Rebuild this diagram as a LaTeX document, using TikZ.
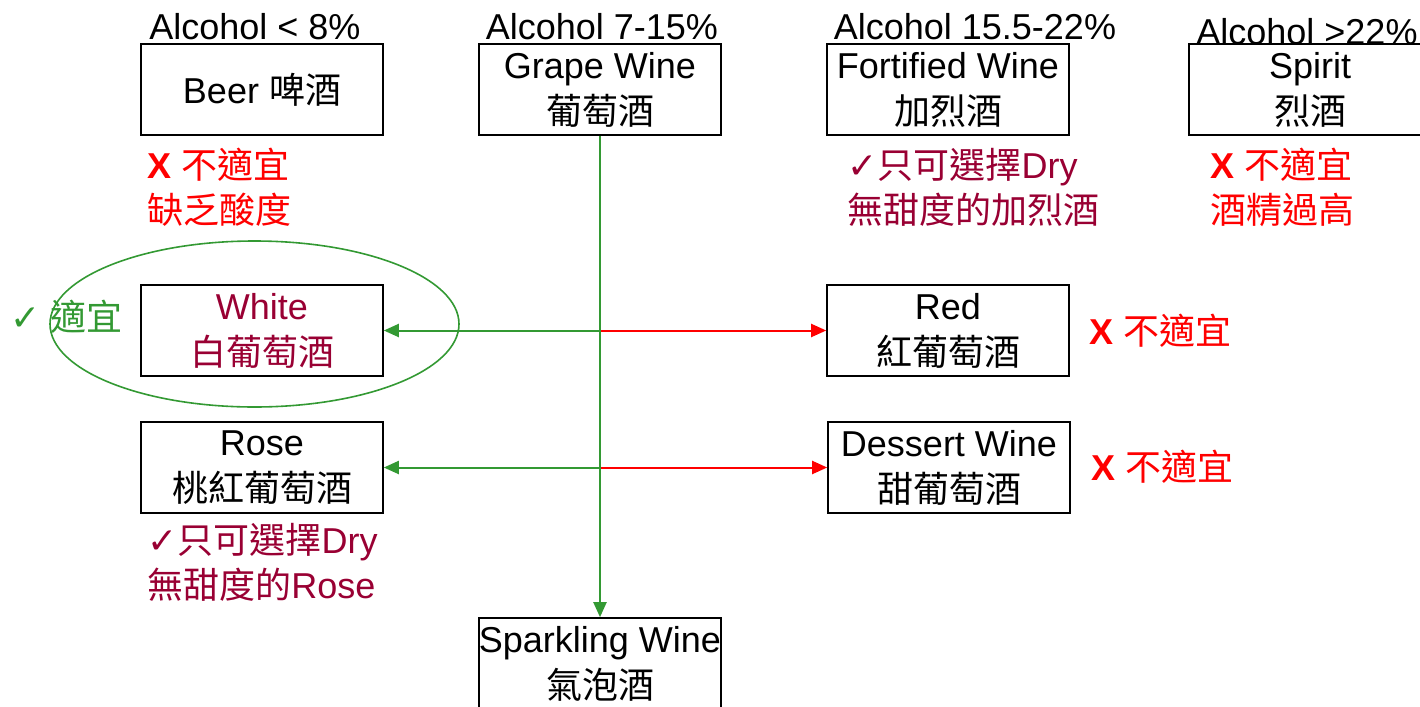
\documentclass[tikz,border=0pt]{standalone}
\usepackage{fontspec}
\setmainfont{Liberation Sans}
\newfontfamily\cjk{Noto Sans CJK TC}
\newfontfamily\symf{DejaVu Sans}
\usetikzlibrary{arrows.meta,shapes.geometric}
\definecolor{wgreen}{HTML}{339933}
\definecolor{wmaroon}{HTML}{990033}
\definecolor{wred}{HTML}{FF0000}
\newcommand{\zh}[1]{{\cjk #1}}
\newcommand{\ck}{{\symf ✓}}
\begin{document}
\begin{tikzpicture}[x=0.5pt,y=-0.5pt,
 every node/.style={font=\fontsize{18}{23}\selectfont, inner sep=0pt},
 wbox/.style={draw=black, line width=0.8pt, minimum width=121pt, minimum height=45.5pt, align=center},
 lab/.style={anchor=base},
 note/.style={anchor=north west, align=left, font=\fontsize{18}{22.5}\selectfont},
 garrow/.style={draw=wgreen, line width=1pt, -{Triangle[length=7.5pt,width=6.5pt]}},
 rarrow/.style={draw=wred, line width=1pt, -{Triangle[length=7.5pt,width=6.5pt]}}]
\useasboundingbox (0,0) rectangle (1420,707);
% boxes
\node[wbox] (beer) at (262,89.5) {Beer \zh{啤酒}};
\node[wbox] (grape) at (600,89.5) {Grape Wine\\\zh{葡萄酒}};
\node[wbox] (fort) at (948,89.5) {Fortified Wine\\\zh{加烈酒}};
\node[wbox] (spirit) at (1310,89.5) {Spirit\\\zh{烈酒}};
\node[wbox, text=wmaroon] (white) at (262,330.5) {White\\\zh{白葡萄酒}};
\node[wbox] (red) at (948,330.5) {Red\\\zh{紅葡萄酒}};
\node[wbox] (rose) at (262,467.5) {Rose\\\zh{桃紅葡萄酒}};
\node[wbox] (dessert) at (949,467.5) {Dessert Wine\\\zh{甜葡萄酒}};
\node[wbox] (spark) at (600,663.5) {Sparkling Wine\\\zh{氣泡酒}};
% alcohol labels
\node[lab] (l1) at (255,39) {Alcohol < 8\%};
\node[lab] (l2) at (602,39) {Alcohol 7-15\%};
\node[lab] (l3) at (975,39) {Alcohol 15.5-22\%};
\node[lab] (l4) at (1307,44) {Alcohol >22\%};
% ellipse
\node[draw=wgreen, line width=0.8pt, ellipse, minimum width=204.5pt, minimum height=83pt] (oval) at (254.5,324) {};
\node[anchor=west, text=wgreen] (ok) at (10,317) {\ck\ \zh{適宜}};
% connectors
\coordinate (j1) at (grape.south |- white.east);
\coordinate (j2) at (grape.south |- rose.east);
\draw[garrow] (j1) -- (white.east);
\draw[rarrow] (j1) -- (red.west);
\draw[garrow] (j2) -- (rose.east);
\draw[rarrow] (j2) -- (dessert.west);
\draw[garrow] (grape.south) -- (spark.north);
% notes
\node[note, text=wred] (beern) at (147,148) {\textbf{X} \zh{不適宜}\\\zh{缺乏酸度}};
\node[note, text=wmaroon] (fortn) at (847,148) {\ck\zh{只可選擇}Dry\\\zh{無甜度的加烈酒}};
\node[note, text=wred] (spiritn) at (1210,148) {\textbf{X} \zh{不適宜}\\\zh{酒精過高}};
\node[anchor=west, text=wred] (redn) at (1089,331) {\textbf{X} \zh{不適宜}};
\node[anchor=west, text=wred] (dessn) at (1091,467) {\textbf{X} \zh{不適宜}};
\node[note, text=wmaroon] (rosen) at (147,523) {\ck\zh{只可選擇}Dry\\\zh{無甜度的}Rose};
\end{tikzpicture}
\end{document}
